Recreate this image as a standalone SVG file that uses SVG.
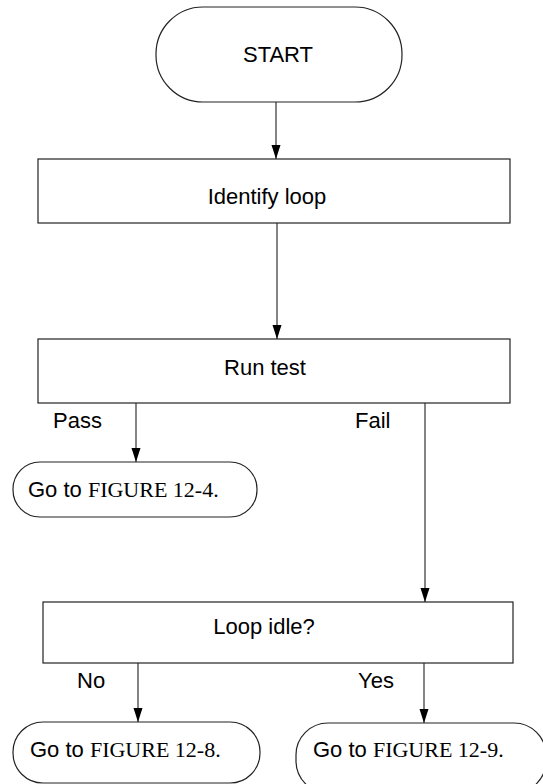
<svg xmlns="http://www.w3.org/2000/svg" width="543" height="784" viewBox="0 0 543 784">
<style>
.box{fill:#fff;stroke:#222;stroke-width:1.2}
.t{font-family:"Liberation Sans",Arial,sans-serif;font-size:22px;fill:#000}
.s{font-family:"Liberation Serif","Times New Roman",serif;font-size:22px}
.e{stroke:#333;stroke-width:1.2;fill:none;marker-end:url(#ah)}
</style>
<defs>
<marker id="ah" markerUnits="userSpaceOnUse" markerWidth="15" markerHeight="10" refX="14" refY="4.5" orient="auto" viewBox="0 0 15 10">
<path d="M0,0 L14,4.5 L0,9 Z" fill="#000"/>
</marker>
</defs>
<rect width="543" height="784" fill="#fff"/>
<g id="connectors">
<line class="e" x1="276" y1="102" x2="276" y2="159"/>
<line class="e" x1="277" y1="223" x2="277" y2="339"/>
<line class="e" x1="136" y1="403" x2="136" y2="462"/>
<line class="e" x1="425" y1="403" x2="425" y2="602"/>
<line class="e" x1="138" y1="663" x2="138" y2="722"/>
<line class="e" x1="424" y1="663" x2="424" y2="723"/>
<text class="t" x="53" y="428">Pass</text>
<text class="t" x="355" y="428">Fail</text>
<text class="t" x="77" y="688">No</text>
<text class="t" x="358" y="688">Yes</text>
</g>
<g id="start">
<rect class="box" x="156" y="7" width="246" height="95" rx="47" ry="47"/>
<text class="t" x="278" y="62" text-anchor="middle">START</text>
</g>
<g id="identify">
<rect class="box" x="38" y="159" width="472" height="64"/>
<text class="t" x="267" y="204" text-anchor="middle">Identify loop</text>
</g>
<g id="runtest">
<rect class="box" x="38" y="339" width="472" height="64"/>
<text class="t" x="265" y="375" text-anchor="middle">Run test</text>
</g>
<g id="goto124">
<rect class="box" x="13" y="462" width="244" height="55" rx="27" ry="27"/>
<text class="t" x="28" y="497">Go to <tspan class="s">FIGURE 12-4.</tspan></text>
</g>
<g id="loopidle">
<rect class="box" x="43" y="602" width="470" height="61"/>
<text class="t" x="264" y="634" text-anchor="middle">Loop idle?</text>
</g>
<g id="goto128">
<rect class="box" x="13" y="722" width="247" height="61" rx="30" ry="30"/>
<text class="t" x="30" y="757">Go to <tspan class="s">FIGURE 12-8.</tspan></text>
</g>
<g id="goto129">
<rect class="box" x="296" y="723" width="250" height="70" rx="32" ry="32"/>
<text class="t" x="313" y="757">Go to <tspan class="s">FIGURE 12-9.</tspan></text>
</g>
</svg>
